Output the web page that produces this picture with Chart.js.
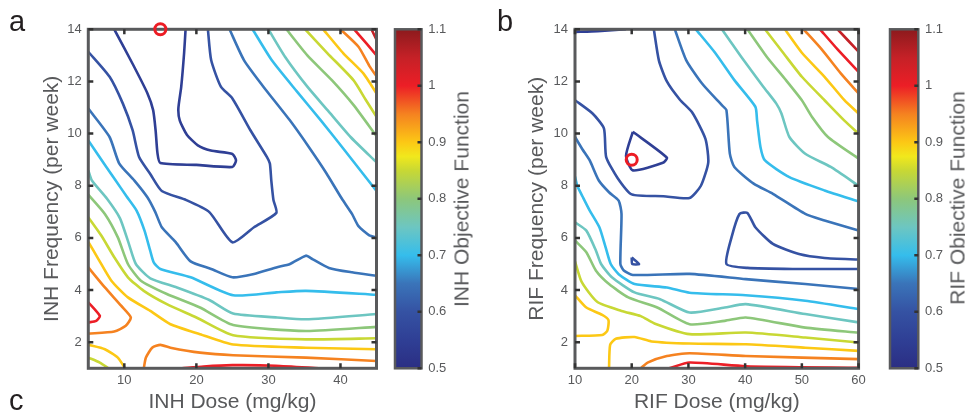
<!DOCTYPE html>
<html><head><meta charset="utf-8">
<script src="https://cdn.jsdelivr.net/npm/chart.js@4.4.0/dist/chart.umd.min.js"></script>
<style>
html,body{margin:0;padding:0;background:#fff;width:965px;height:414px;overflow:hidden;position:relative;font-family:"Liberation Sans",Arial,sans-serif}
canvas{position:absolute;top:0}
.lbl{position:absolute;color:#231f20;font-size:29px;line-height:1}
.cbt{position:absolute;white-space:nowrap;font-size:21px;color:#58595b;transform:translate(-50%,-50%) rotate(-90deg);line-height:1}
</style></head><body>
<canvas id="ca" width="385" height="420" style="left:0"></canvas>
<canvas id="cba" width="80" height="414" style="left:385px"></canvas>
<canvas id="cb" width="390" height="420" style="left:480px"></canvas>
<canvas id="cbb" width="85" height="414" style="left:880px"></canvas>
<div class="lbl" style="left:9px;top:7px">a</div>
<div class="lbl" style="left:497px;top:7px">b</div>
<div class="lbl" style="left:9px;top:386px">c</div>
<div class="cbt" style="left:461px;top:198.5px">INH Objective Function</div>
<div class="cbt" style="left:957px;top:198px">RIF Objective Function</div>
<script>
// ---------- tick labels ----------
const inhDoseTicks = [10,20,30,40];
const rifDoseTicks = [10,20,30,40,50,60];
const freqTicks = [2,4,6,8,10,12,14];
const cbTicks = [0.5,0.6,0.7,0.8,0.9,1.0,1.1];

// ---------- optimum markers ----------
const inhOptimum = [15,14];
const rifOptimum = [20,9];

// ---------- INH contour lines (dose mg/kg, frequency per week) ----------
const inh055 = [[8.6,14],[11.2,12.65],[13.2,11.55],[14.0,10.9],[14.35,10.1],[14.6,9.25],[15.0,8.87],[20,8.8],[25.0,8.72],[25.5,8.97],[25.0,9.22],[22.0,9.35],[20.2,9.55],[18.7,9.95],[17.7,10.5],[17.5,10.96],[17.9,11.8],[18.3,13.1],[18.5,14]];
const inh060 = [[5,13.14],[7.96,12.18],[9.8,11.15],[11.15,10.13],[12.05,9.1],[13.6,8.45],[15.2,7.8],[18.6,7.45],[21.8,6.99],[25.0,5.83],[28.0,6.41],[31.1,6.96],[30.7,7.45],[30.4,8.2],[30.2,8.85],[29.8,9.1],[27.5,10.13],[25.0,11.35],[23.4,11.8],[22.05,12.82],[21.6,14]];
const inh065a = [[5,10.96],[7.95,9.87],[9.3,8.85],[11.4,8.2],[13.2,7.56],[14.3,6.99],[15.2,6.41],[17.1,5.85],[19.2,5.1],[22.05,4.81],[25.0,4.49],[28.0,4.62],[31.1,4.87],[33.0,5.0],[35.2,5.32],[36.1,5.19],[38.4,4.85],[41.6,4.68],[45,4.55]];
const inh065b = [[24.6,14],[26.6,12.82],[29.3,11.8],[33.0,10.5],[35.7,9.45],[38.0,8.5],[40.2,7.5],[41.6,6.92],[42.5,6.45],[44.0,6.1],[45,6.02]];
const inh070a = [[5,9.74],[7.5,8.72],[8.8,8.2],[10.3,7.6],[11.7,7.05],[12.8,6.28],[13.6,5.5],[14.1,5.05],[15.0,4.81],[19.2,4.49],[25.1,3.8],[31.1,3.91],[35.2,3.97],[45,3.82]];
const inh070b = [[27.8,14],[30.5,12.8],[34.0,11.6],[37.3,10.5],[40.6,9.35],[45,7.8]];
const inh075a = [[5,8.59],[5.5,8.2],[7.6,7.5],[9.4,6.75],[10.6,5.8],[11.6,5.0],[13.6,4.45],[17.3,4.1],[21.8,3.62],[25.1,3.1],[31.2,2.95],[35.2,2.88],[45,3.08]];
const inh075b = [[30,14],[32.3,12.95],[35.4,11.8],[38.2,10.9],[41.4,9.87],[45,8.9]];
const inh080a = [[5,7.66],[7.3,6.92],[9.1,6.02],[10.5,5.0],[12.3,4.36],[15.9,3.85],[20.5,3.33],[25.1,2.66],[35.2,2.43],[45,2.59]];
const inh080b = [[32.5,14],[35.4,13.0],[38.8,12.05],[41.8,11.1],[45,9.9]];
const inh085a = [[5,6.79],[6.8,6.09],[8.6,5.26],[10.5,4.49],[12.7,3.97],[15.9,3.46],[20,2.95],[25.1,2.27],[35.2,2.11],[45,2.15]];
const inh085b = [[35.1,14],[38.2,13.08],[41.8,12.05],[43.5,11.3],[45,10.64]];
const inh085c = [[5,1.41],[6.6,1.22],[7.8,1]];
const inh090a = [[5,5.85],[6.4,5.19],[8.2,4.36],[10.5,3.72],[13.6,3.2],[16.4,2.69],[20.5,2.31],[25.1,1.91],[35.2,1.79],[45,1.73]];
const inh090b = [[37.6,14],[40.4,13.08],[43.2,12.3],[45,11.54]];
const inh090c = [[5,1.9],[7.3,1.73],[9.1,1.41],[10.1,1]];
const inh095a = [[5,4.87],[7.3,4.1],[9.55,3.4],[10.9,2.95],[10.2,2.63],[8.6,2.41],[5,2.33]];
const inh095b = [[40,14],[42.5,13.33],[44,12.6],[45,12.2]];
const inh095c = [[12.7,1],[13.0,1.41],[13.9,1.8],[15,1.9],[16.4,1.79],[20.5,1.6],[25.1,1.5],[35.2,1.41],[45,1.28]];
const inh100a = [[5,3.53],[6.6,3.01],[6.1,2.82],[5,2.76]];
const inh100b = [[41.9,14],[43.6,13.46],[45,13.0]];
const inh100c = [[18,1],[21,1.07],[25,1.12],[31,1.1],[37,1]];
const inh105 = [[44.3,14],[45,13.6]];

// ---------- RIF contour lines ----------
const rif055a = [[10,13.9],[14,13.93],[19,14]];
const rif055b = [[20.2,10.07],[19.0,9.15],[20.2,8.59],[25.5,8.88],[26.2,9.08],[20.2,10.07]];
const rif060a = [[10,11.28],[13.1,10.77],[15.1,10.2],[15.5,9.1],[17.5,8.3],[20.0,7.67],[25.6,7.6],[30.2,7.53],[32.2,8.0],[33.5,8.9],[33.0,9.8],[30.7,10.8],[28.5,11.3],[26.2,12.0],[24.8,12.8],[23.9,14]];
const rif060b = [[20.0,5.25],[21.3,5.0],[20.1,5.0],[20.0,5.25]];
const rif060c = [[60,5.17],[54,5.23],[49.5,5.38],[44.9,5.77],[41.8,6.41],[40.4,6.96],[39,6.92],[37.6,6.02],[36.7,5.0],[40.4,4.85],[48.4,4.81],[60,4.81]];
const rif065a = [[10,9.87],[11.3,9.4],[12.6,8.97],[14.2,8.2],[16.0,7.75],[17.7,7.43],[18.2,6.92],[18.0,5.0],[18.6,4.75],[20.2,4.58],[30.2,4.62],[40.1,4.42],[50.6,4.23],[60,4.04]];
const rif065b = [[27.6,14],[29.6,12.82],[32.4,11.92],[35.9,11.09],[36.7,10.9],[37.3,9.23],[38.1,8.72],[41.5,8.08],[44.9,7.69],[50.6,6.92],[54,6.67],[60,6.28]];
const rif070a = [[10,8.35],[10.4,8.0],[11.4,7.56],[12.6,7.05],[14.3,6.41],[15.4,5.64],[16.3,5.0],[17.7,4.61],[20.5,4.23],[26.2,4.1],[30.2,3.9],[40.1,3.8],[50.6,3.59],[60,3.27]];
const rif070b = [[31.3,14],[34.7,13.1],[38.1,12.05],[41.8,11.03],[42.1,10.51],[42.7,9.49],[43.5,8.97],[47.8,8.33],[54,7.82],[60,7.4]];
const rif075a = [[10,6.6],[12,6.28],[13.7,5.51],[14.6,5.0],[16.5,4.49],[20.5,3.91],[25,3.65],[30.2,3.14],[36.4,3.33],[40.1,3.46],[50.6,3.08],[60,2.76]];
const rif075b = [[35.9,14],[39.3,12.95],[43.2,11.8],[45.5,11.15],[46.4,10.77],[47.8,9.87],[50.6,9.23],[55.1,8.72],[60,8.0]];
const rif080a = [[10,5.9],[12,5.45],[13.7,4.74],[16,4.23],[19.4,3.72],[24.5,3.33],[30.2,2.69],[36.4,2.82],[40.1,2.95],[50.6,2.56],[60,2.37]];
const rif080b = [[40.4,14],[43.8,12.95],[47.2,12.05],[50,11.28],[51.8,10.64],[54.6,9.87],[60,9.04]];
const rif085a = [[10,5.1],[11.2,4.3],[13.9,3.55],[18.2,3.2],[21.6,3.0],[24,2.72],[30.2,2.31],[40.1,2.37],[50.6,2.18],[60,1.99]];
const rif085b = [[43.5,14],[46.7,13.1],[50,12.18],[54,11.28],[57.5,10.5],[60,10.0]];
const rif090a = [[10,3.8],[12,3.33],[14.8,3.05],[15.9,2.85],[15.7,2.44],[14.8,2.28],[10,2.24]];
const rif090b = [[16.0,1],[16.2,1.9],[17.2,2.13],[20.5,2.2],[23.5,2.03],[30.2,1.95],[40.1,1.92],[50.6,1.79],[60,1.67]];
const rif090c = [[47,14],[50,13.1],[54,12.18],[57.5,11.28],[60,10.77]];
const rif095a = [[21.6,1],[22.8,1.22],[26.2,1.47],[30.2,1.58],[40.1,1.47],[60,1.35]];
const rif095b = [[50.3,14],[53.5,13.23],[56.9,12.3],[60,11.54]];
const rif100a = [[26.6,1],[30.2,1.22],[40.1,1.08],[60,1.02]];
const rif100b = [[53.2,14],[56.3,13.23],[60,12.37]];
const rif105 = [[56.3,14],[60,13.14]];

// contour level of each line
const inhLines = [[0.55,inh055],[0.60,inh060],[0.65,inh065a],[0.65,inh065b],[0.70,inh070a],[0.70,inh070b],[0.75,inh075a],[0.75,inh075b],[0.80,inh080a],[0.80,inh080b],[0.85,inh085a],[0.85,inh085b],[0.85,inh085c],[0.90,inh090a],[0.90,inh090b],[0.90,inh090c],[0.95,inh095a],[0.95,inh095b],[0.95,inh095c],[1.00,inh100a],[1.00,inh100b],[1.00,inh100c],[1.05,inh105]];
const rifLines = [[0.55,rif055a],[0.55,rif055b],[0.60,rif060a],[0.60,rif060b],[0.60,rif060c],[0.65,rif065a],[0.65,rif065b],[0.70,rif070a],[0.70,rif070b],[0.75,rif075a],[0.75,rif075b],[0.80,rif080a],[0.80,rif080b],[0.85,rif085a],[0.85,rif085b],[0.90,rif090a],[0.90,rif090b],[0.90,rif090c],[0.95,rif095a],[0.95,rif095b],[1.00,rif100a],[1.00,rif100b],[1.05,rif105]];

// ---------- styling ----------
const cmapStops = [[0.5,'#2b2e83'],[0.55,'#2f3f95'],[0.6,'#3552a3'],[0.65,'#3a74b9'],[0.7,'#35bdec'],[0.75,'#6dc6c1'],[0.8,'#8dc77a'],[0.85,'#c8d834'],[0.875,'#f1e81c'],[0.9,'#fcc815'],[0.95,'#f58220'],[1.0,'#ec1e26'],[1.05,'#c52127'],[1.1,'#8c1a1d']];
const TXT = '#58595b';
Chart.defaults.font.family = '"Liberation Sans", Arial, sans-serif';

function hex2rgb(h){return [1,3,5].map(i=>parseInt(h.slice(i,i+2),16));}
function levelColor(v){
  for(let i=0;i<cmapStops.length-1;i++){
    const [a,ca]=cmapStops[i],[b,cb]=cmapStops[i+1];
    if(v>=a-1e-9&&v<=b+1e-9){const t=Math.min(1,Math.max(0,(v-a)/(b-a)));const A=hex2rgb(ca),B=hex2rgb(cb);
      return 'rgb('+A.map((c,k)=>Math.round(c+(B[k]-c)*t)).join(',')+')';}
  }
  return cmapStops[cmapStops.length-1][1];
}

const framePlugin = {
  id:'frame',
  beforeDatasetDraw(chart,args,opts){
    if(args.index!==0) return;
    const {ctx,chartArea:a,scales}=chart;
    ctx.save();
    ctx.strokeStyle='#595a5c'; ctx.lineWidth=3;
    ctx.strokeRect(a.left,a.top,a.right-a.left,a.bottom-a.top);
    ctx.strokeStyle='#333'; ctx.lineWidth=2.5; const L=5;
    ctx.beginPath();
    opts.xTicks.forEach(v=>{const p=scales.x.getPixelForValue(v);
      ctx.moveTo(p,a.bottom);ctx.lineTo(p,a.bottom-L);ctx.moveTo(p,a.top);ctx.lineTo(p,a.top+L);});
    opts.yTicks.forEach(v=>{const p=scales.y.getPixelForValue(v);
      ctx.moveTo(a.left,p);ctx.lineTo(a.left+L,p);ctx.moveTo(a.right,p);ctx.lineTo(a.right-L,p);});
    ctx.stroke(); ctx.restore();
  }
};

function makeMain(id, lines, opt, xMin, xMax, xTicks, xTitle, yTitle, cfg){
  const datasets=[{
    data:[{x:opt[0],y:opt[1]}], showLine:false, pointRadius:5.5, pointBorderWidth:3,
    pointBorderColor:'#ec1c24', pointBackgroundColor:'rgba(255,255,255,0)', clip:false
  }].concat(lines.map(([lv,pts])=>({
    data:pts.map(p=>({x:p[0],y:p[1]})), showLine:true, borderColor:levelColor(lv),
    borderWidth:2.6, pointRadius:0, tension:0.2, fill:false
  })));
  new Chart(document.getElementById(id),{
    type:'scatter', data:{datasets},
    options:{
      responsive:false, animation:false, devicePixelRatio:1,
      layout:{padding:{left:0,right:cfg.padR,top:29.3,bottom:0}},
      plugins:{legend:{display:false},tooltip:{enabled:false},frame:{xTicks,yTicks:freqTicks}},
      scales:{
        x:{type:'linear',min:xMin,max:xMax,
          afterBuildTicks:s=>{s.ticks=xTicks.map(v=>({value:v}));},
          afterFit:s=>{s.height=cfg.xH;},
          grid:{display:false,drawTicks:false},border:{display:false},
          ticks:{color:TXT,font:{size:13},padding:4.2,maxRotation:0,autoSkip:false},
          title:{display:true,text:xTitle,color:TXT,font:{size:21},padding:{top:0,bottom:4.7}}},
        y:{type:'linear',min:1,max:14,
          afterBuildTicks:s=>{s.ticks=freqTicks.map(v=>({value:v}));},
          afterFit:s=>{s.width=cfg.yW;},
          grid:{display:false,drawTicks:false},border:{display:false},
          ticks:{color:TXT,font:{size:13},padding:cfg.tickPad,autoSkip:false},
          title:{display:true,text:yTitle,color:TXT,font:{size:21},padding:{top:cfg.titlePad,bottom:0}}}
      }
    },
    plugins:[framePlugin]
  });
}

const cbPlugin = {
  id:'cbframe',
  afterDatasetsDraw(chart){
    const {ctx,chartArea:a,scales}=chart;
    ctx.save();
    ctx.strokeStyle='#595a5c'; ctx.lineWidth=2.5;
    ctx.strokeRect(a.left,a.top,a.right-a.left,a.bottom-a.top);
    ctx.strokeStyle='#333'; ctx.lineWidth=2.5; ctx.beginPath();
    cbTicks.forEach(v=>{const p=scales.y.getPixelForValue(v);ctx.moveTo(a.right,p);ctx.lineTo(a.right-4,p);});
    ctx.stroke(); ctx.restore();
  }
};

function makeBar(id, cfg){
  const lo=cbTicks[0], hi=cbTicks[cbTicks.length-1];
  new Chart(document.getElementById(id),{
    type:'bar',
    data:{labels:['c'],datasets:[{data:[[lo,hi]],
      barPercentage:1,categoryPercentage:1,borderWidth:0,
      backgroundColor:(c)=>{const ch=c.chart;if(!ch.chartArea)return '#888';
        const y=ch.scales.y;const g=ch.ctx.createLinearGradient(0,y.getPixelForValue(lo),0,y.getPixelForValue(hi));
        cmapStops.forEach(([v,col])=>g.addColorStop(Math.min(1,Math.max(0,(v-lo)/(hi-lo))),col));return g;}}]},
    options:{
      responsive:false,animation:false,devicePixelRatio:1,
      layout:{padding:{left:cfg.left,right:0,top:29.3,bottom:45.7}},
      plugins:{legend:{display:false},tooltip:{enabled:false}},
      scales:{
        x:{display:false},
        y:{position:'right',min:lo,max:hi,
          afterBuildTicks:s=>{s.ticks=cbTicks.map(v=>({value:v}));},
          afterFit:s=>{s.width=cfg.yW;},
          grid:{display:false,drawTicks:false},border:{display:false},
          ticks:{color:TXT,font:{size:13},padding:6.7,callback:v=>String(Math.round(v*10)/10)}}
      }
    },
    plugins:[cbPlugin]
  });
}

makeMain('ca', inhLines, inhOptimum, 5, 45, inhDoseTicks, 'INH Dose (mg/kg)', 'INH Frequency (per week)',
  {padR:3.3, xH:51.7, yW:88.3, tickPad:6.6, titlePad:39.4});
makeMain('cb', rifLines, rifOptimum, 10, 60, rifDoseTicks, 'RIF Dose (mg/kg)', 'RIF Frequency (per week)',
  {padR:1.7, xH:51.7, yW:95, tickPad:7, titlePad:44.4});
makeBar('cba',{left:10, yW:80-36.5});
makeBar('cbb',{left:10, yW:85-38.3});
</script>
</body></html>
